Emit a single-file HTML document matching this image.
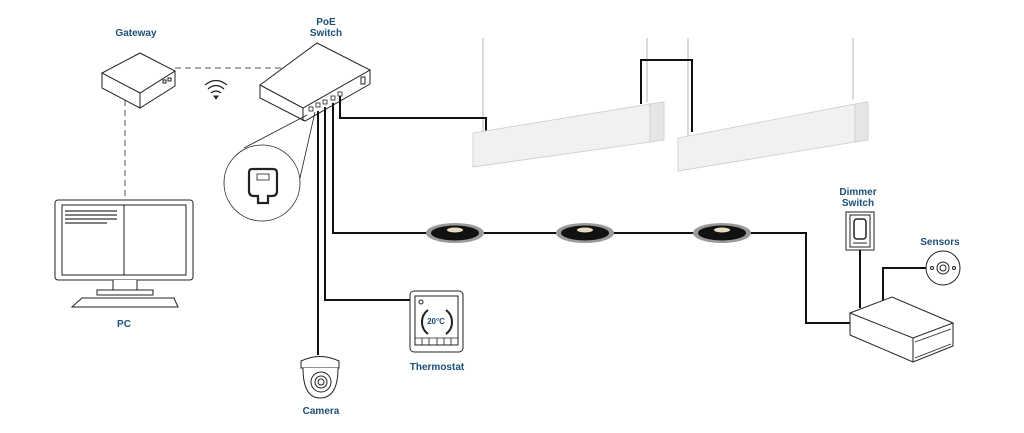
<!DOCTYPE html>
<html><head><meta charset="utf-8"><style>
html,body{margin:0;padding:0;background:#fff}
svg{display:block}
text{font-family:"Liberation Sans",sans-serif;font-weight:bold;font-size:10px;fill:#1d4f78;text-anchor:middle}
</style></head><body>
<svg width="1024" height="433" viewBox="0 0 1024 433" xmlns="http://www.w3.org/2000/svg">
<g fill="none" stroke="#222" stroke-width="1">
<!-- suspension wires -->
<line x1="483" y1="38" x2="483" y2="132" stroke="#999" stroke-width="0.7"/>
<line x1="647" y1="38" x2="647" y2="102" stroke="#999" stroke-width="0.7"/>
<line x1="688" y1="38" x2="688" y2="136" stroke="#999" stroke-width="0.7"/>
<line x1="853" y1="38" x2="853" y2="100" stroke="#999" stroke-width="0.7"/>
<!-- dashed -->
<path d="M175 68 H282 M125 100 V205" stroke-dasharray="6,4" stroke="#555"/>
<!-- gateway -->
<path d="M140 53 L175 71 L140 93 L102 73 Z M102 73 V88 L140 108 L175 86 V71 M140 93 V108" fill="#fff"/>
<rect x="163" y="80" width="3" height="3"/><rect x="168" y="78" width="3" height="3"/>
<!-- wifi -->
<path d="M205 85 Q216 76 227 85 M208 89 Q216 82 224 89 M211 93 Q216 89 221 93" stroke-width="1.2"/>
<path d="M214 96 L216 99 L218 96 Z" fill="#222"/>
<!-- switch -->
<path d="M317 43 L370 70 L303 108 L260 85 Z M260 85 V98 L305 121 L370 84 V70 M303 108 V121" fill="#fff"/>
<rect x="361" y="77" width="4" height="7"/>
<g stroke-width="0.8"><rect x="309" y="107" width="4" height="4"/><rect x="316" y="103" width="4" height="4"/><rect x="323" y="100" width="4" height="4"/><rect x="331" y="96" width="4" height="4"/><rect x="338" y="92" width="4" height="4"/></g>
<!-- zoom circle -->
<line x1="307" y1="115" x2="244" y2="148" stroke-width="0.8"/>
<line x1="315" y1="112" x2="300" y2="178" stroke-width="0.8"/>
<circle cx="262" cy="183" r="38" fill="#fff" stroke-width="0.8"/>
<path d="M252 169 H273 Q277 169 277 173 V191 Q277 196 272 196 H268 V203 H258 V196 H254 Q249 196 249 191 V173 Q249 169 252 169 Z" stroke-width="2.2"/>
<rect x="257" y="174" width="12" height="6" stroke-width="0.8"/>
<!-- PC -->
<rect x="55" y="200" width="138" height="80" rx="3" fill="#fff"/>
<rect x="62" y="205" width="124" height="70"/>
<line x1="124" y1="205" x2="124" y2="275"/>
<g stroke="#555" stroke-width="1.5"><line x1="65" y1="211" x2="117" y2="211"/><line x1="65" y1="215" x2="117" y2="215"/><line x1="65" y1="219" x2="117" y2="219"/><line x1="65" y1="223" x2="107" y2="223"/></g>
<path d="M113 280 V290 H137 V280 M97 290 H153 V295 H97 Z M82 298 H174 L178 307 H72 Z" fill="#fff"/>
<!-- cables -->
<g stroke="#111" stroke-width="2">
<path d="M318 111 V355"/>
<path d="M325 107 V300 H410"/>
<path d="M333 103 V233 H806 V323 H850"/>
<path d="M340 96 V118 H486 V133"/>
<path d="M641 104 V60 H692 V132"/>
<path d="M860 250 V308"/>
<path d="M883 302 V268 H926"/>
</g>
<!-- linear lights -->
<g stroke="#ccc" stroke-width="0.8">
<path d="M473 133 L650 104 V142 L473 167 Z" fill="#f1f1f1"/>
<path d="M650 104 L664 102 V140 L650 142 Z" fill="#e6e6e6"/>
<path d="M678 138 L855 104 V142 L678 171 Z" fill="#f1f1f1"/>
<path d="M855 104 L868 102 V140 L855 142 Z" fill="#e6e6e6"/>
</g>
<!-- downlights -->
<g stroke="none">
<ellipse cx="455" cy="233" rx="29" ry="10" fill="#9a9a9a"/><ellipse cx="455" cy="233" rx="24" ry="7.5" fill="#111"/><ellipse cx="455" cy="230" rx="8" ry="2.5" fill="#e8dcc0"/>
<ellipse cx="585" cy="233" rx="29" ry="10" fill="#9a9a9a"/><ellipse cx="585" cy="233" rx="24" ry="7.5" fill="#111"/><ellipse cx="585" cy="230" rx="8" ry="2.5" fill="#e8dcc0"/>
<ellipse cx="722" cy="233" rx="29" ry="10" fill="#9a9a9a"/><ellipse cx="722" cy="233" rx="24" ry="7.5" fill="#111"/><ellipse cx="722" cy="230" rx="8" ry="2.5" fill="#e8dcc0"/>
</g>
<!-- thermostat -->
<rect x="410" y="291" width="53" height="61" rx="4" fill="#fff"/>
<rect x="415" y="296" width="43" height="49"/>
<path d="M428 310 A15 15 0 0 0 428 334 M446 310 A15 15 0 0 1 446 334" stroke-width="2"/>
<path d="M415 338 H458 M422 338 V345 M429 338 V345 M437 338 V345 M444 338 V345 M451 338 V345" stroke-width="0.8"/>
<circle cx="421" cy="302" r="2"/>
<!-- camera -->
<path d="M301 361 Q320 352 339 361 V368 H301 Z" fill="#fff"/>
<path d="M303 368 Q303 398 320 398 Q338 398 338 368" fill="#fff"/>
<circle cx="321" cy="382" r="10"/><circle cx="321" cy="382" r="6"/><circle cx="321" cy="382" r="3"/>
<!-- dimmer -->
<rect x="846" y="212" width="28" height="38" fill="#fff"/>
<rect x="850" y="215" width="20" height="32"/>
<rect x="854" y="219" width="12" height="20" rx="3" stroke-width="1.5"/>
<line x1="853" y1="243" x2="867" y2="243"/>
<!-- sensors -->
<circle cx="943" cy="268" r="17" fill="#fff"/>
<circle cx="943" cy="268" r="6"/><circle cx="943" cy="268" r="3"/>
<circle cx="932" cy="268" r="1.5"/><circle cx="954" cy="268" r="1.5"/>
<!-- controller box -->
<path d="M850 313 L892 297 L953 323 L913 338 Z M850 313 V335 L913 362 L953 346 V323 M913 338 V362" fill="#fff"/>
<path d="M915 342 L951 329 M915 358 L951 344" stroke-width="0.8"/>
</g>
<text x="136" y="36">Gateway</text>
<text x="326" y="25">PoE</text>
<text x="326" y="36">Switch</text>
<text x="124" y="327">PC</text>
<text x="321" y="414">Camera</text>
<text x="437" y="370">Thermostat</text>
<text x="858" y="195">Dimmer</text>
<text x="858" y="206">Switch</text>
<text x="940" y="245">Sensors</text>
<text x="436" y="324" style="font-size:8px">20°C</text>
</svg>
</body></html>
